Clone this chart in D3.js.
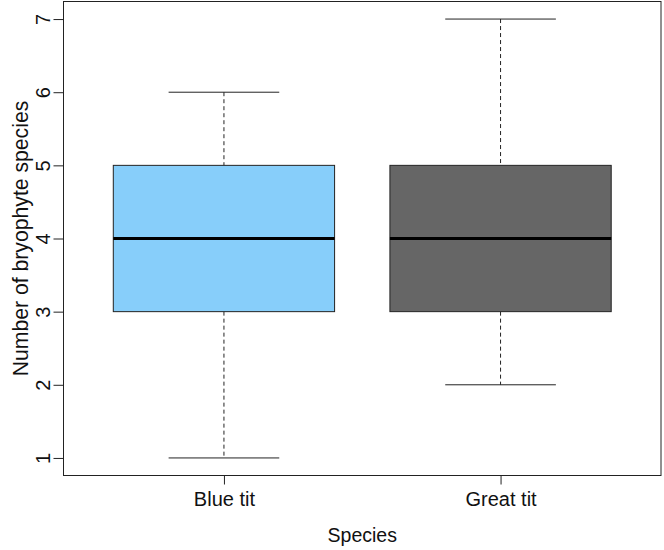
<!DOCTYPE html>
<html>
<head>
<meta charset="utf-8">
<script src="https://cdn.jsdelivr.net/npm/d3@7"></script>
<style>
  html, body { margin: 0; padding: 0; background: #fff; }
  svg { display: block; font-family: "Liberation Sans", Arial, sans-serif; }
</style>
</head>
<body>
<div id="chart"></div>
<script>
// Data
const categories = ["Blue tit", "Great tit"];
const whiskerLow  = [1, 2];
const q1          = [3, 3];
const medians     = [4, 4];
const q3          = [5, 5];
const whiskerHigh = [6, 7];
const colors      = ["#87CEFA", "#666666"];
const yTicks      = [1, 2, 3, 4, 5, 6, 7];

const W = 664, H = 550;
const plot = { left: 63.5, right: 661, top: 1.5, bottom: 475.5 };

const svg = d3.select("#chart").append("svg")
  .attr("width", W).attr("height", H);

const x = d3.scaleLinear().domain([0.42, 2.58]).range([plot.left, plot.right]);
const y = d3.scaleLinear().domain([0.76, 7.24]).range([plot.bottom, plot.top]);

const boxHalf = 0.4, capHalf = 0.2;
const lineCol = "#222";

const data = categories.map((c, i) => ({
  cat: c, pos: i + 1, lo: whiskerLow[i], q1: q1[i], med: medians[i], q3: q3[i], hi: whiskerHigh[i], col: colors[i]
}));

const g = svg.append("g");
data.forEach(d => {
  // whiskers (dashed)
  g.append("line").attr("x1", x(d.pos)).attr("x2", x(d.pos))
    .attr("y1", y(d.hi)).attr("y2", y(d.q3))
    .attr("stroke", lineCol).attr("stroke-width", 1).attr("stroke-dasharray", "4,3");
  g.append("line").attr("x1", x(d.pos)).attr("x2", x(d.pos))
    .attr("y1", y(d.q1)).attr("y2", y(d.lo))
    .attr("stroke", lineCol).attr("stroke-width", 1).attr("stroke-dasharray", "4,3");
  // caps
  [d.lo, d.hi].forEach(v => {
    g.append("line").attr("x1", x(d.pos - capHalf)).attr("x2", x(d.pos + capHalf))
      .attr("y1", y(v)).attr("y2", y(v))
      .attr("stroke", lineCol).attr("stroke-width", 1);
  });
  // box
  g.append("rect")
    .attr("x", x(d.pos - boxHalf)).attr("width", x(d.pos + boxHalf) - x(d.pos - boxHalf))
    .attr("y", y(d.q3)).attr("height", y(d.q1) - y(d.q3))
    .attr("fill", d.col).attr("stroke", lineCol).attr("stroke-width", 1);
  // median
  g.append("line").attr("x1", x(d.pos - boxHalf)).attr("x2", x(d.pos + boxHalf))
    .attr("y1", y(d.med)).attr("y2", y(d.med))
    .attr("stroke", "#000").attr("stroke-width", 3);
});

// frame
svg.append("rect")
  .attr("x", plot.left).attr("y", plot.top)
  .attr("width", plot.right - plot.left).attr("height", plot.bottom - plot.top)
  .attr("fill", "none").attr("stroke", lineCol).attr("stroke-width", 1);

// y axis
const yAxis = d3.axisLeft(y).tickValues(yTicks).tickFormat(d3.format("d")).tickSize(10).tickPadding(3);
const ya = svg.append("g").attr("transform", `translate(${plot.left},0)`).call(yAxis);
ya.select(".domain").remove();
ya.selectAll(".tick line").attr("stroke", lineCol);
ya.selectAll(".tick text")
  .attr("font-size", 20).attr("fill", "#111")
  .attr("font-family", "Liberation Sans, Arial, sans-serif")
  .attr("text-anchor", "middle")
  .attr("dy", null)
  .attr("x", null)
  .attr("transform", "translate(-13.5,0) rotate(-90)");

// x axis
const xAxis = d3.axisBottom(x).tickValues(data.map(d => d.pos))
  .tickFormat((d, i) => categories[i]).tickSize(9).tickPadding(7.5);
const xa = svg.append("g").attr("transform", `translate(0,${plot.bottom})`).call(xAxis);
xa.select(".domain").remove();
xa.selectAll(".tick line").attr("stroke", lineCol);
xa.selectAll(".tick text")
  .attr("font-size", 20).attr("fill", "#111")
  .attr("font-family", "Liberation Sans, Arial, sans-serif");

// axis titles
svg.append("text")
  .attr("x", (plot.left + plot.right) / 2).attr("y", 542)
  .attr("text-anchor", "middle").attr("font-size", 19.5).attr("fill", "#111")
  .text("Species");
svg.append("text")
  .attr("transform", `translate(28,${(plot.top + plot.bottom) / 2}) rotate(-90)`)
  .attr("text-anchor", "middle").attr("font-size", 21.2).attr("fill", "#111")
  .text("Number of bryophyte species");
</script>
</body>
</html>
